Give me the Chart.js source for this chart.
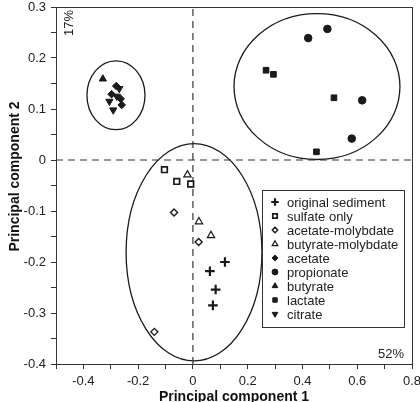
<!DOCTYPE html>
<html lang="en">
<head>
  <meta charset="UTF-8" />
  <title>PCA scores</title>
  <style>
    html, body { margin: 0; padding: 0; background: #fff; }
    #wrap { width: 420px; height: 402px; }
  </style>
</head>
<body>
  <div id="wrap"><canvas id="pca" width="420" height="402"></canvas></div>

  <script src="https://cdn.jsdelivr.net/npm/chart.js"></script>
  <script>
    // PC1 / PC2 scores, one array per treatment
    const originalSediment = [[0.117, -0.200], [0.062, -0.218], [0.083, -0.254], [0.073, -0.285]];
    const sulfateOnly = [[-0.104, -0.019], [-0.059, -0.042], [-0.008, -0.047]];
    const acetateMolybdate = [[-0.069, -0.103], [0.021, -0.161], [-0.141, -0.337]];
    const butyrateMolybdate = [[-0.020, -0.029], [0.022, -0.121], [0.066, -0.148]];
    const acetate = [[-0.280, 0.145], [-0.297, 0.129], [-0.264, 0.120], [-0.260, 0.108]];
    const propionate = [[0.421, 0.239], [0.491, 0.257], [0.618, 0.117], [0.580, 0.042]];
    const butyrate = [[-0.329, 0.159]];
    const lactate = [[0.267, 0.176], [0.294, 0.168], [0.515, 0.122], [0.451, 0.016]];
    const citrate = [[-0.269, 0.140], [-0.305, 0.115], [-0.291, 0.098], [-0.278, 0.125]];

    // group ellipses: centre and half-axes in data units
    const ellipseCentres = [[-0.281, 0.127], [0.453, 0.144], [0.004, -0.181]];
    const ellipseRadii = [[0.106, 0.0675], [0.303, 0.143], [0.248, 0.213]];

    const xRange = [-0.5, 0.8];
    const yRange = [-0.4, 0.3];
    const pc1Share = "52%";
    const pc2Share = "17%";
    const yTitle = "Principal component 2";

    const FONT = "'Liberation Sans', Arial, sans-serif";
    const INK = "#1a1a1a";

    const toPts = arr => arr.map(p => ({ x: p[0], y: p[1] }));

    function series(label, arr, style, filled, extra) {
      return Object.assign({
        label,
        data: toPts(arr),
        pointStyle: style,
        pointRadius: 3.6,
        pointHoverRadius: 3.6,
        borderColor: INK,
        backgroundColor: filled ? INK : "#fff",
        borderWidth: filled ? 1 : 1.4,
        order: 0
      }, extra || {});
    }

    const markerSets = [
      series("original sediment", originalSediment, "cross", true, { pointRadius: 4.8, borderWidth: 2.2 }),
      series("sulfate only", sulfateOnly, "rect", false, { pointRadius: 4, borderWidth: 1.7 }),
      series("acetate-molybdate", acetateMolybdate, "rectRot", false, { pointRadius: 3.5, borderWidth: 1.4 }),
      series("butyrate-molybdate", butyrateMolybdate, "triangle", false, { pointRadius: 4.2, borderWidth: 1.2 }),
      series("acetate", acetate, "rectRot", true, { pointRadius: 3.8 }),
      series("propionate", propionate, "circle", true, { pointRadius: 3.8 }),
      series("butyrate", butyrate, "triangle", true, { pointRadius: 4.2 }),
      series("lactate", lactate, "rect", true, { pointRadius: 4 }),
      series("citrate", citrate, "triangle", true, { pointRadius: 4.2, rotation: 180 })
    ];

    const dashed = (data) => ({
      type: "line",
      label: "",
      data,
      showLine: true,
      pointRadius: 0,
      borderColor: "#333",
      borderWidth: 1.2,
      borderDash: [7, 5],
      fill: false,
      order: 10
    });

    const ellipsePlugin = {
      id: "ellipses",
      beforeDatasetsDraw(chart) {
        const { ctx, scales: { x, y } } = chart;
        ctx.save();
        ctx.strokeStyle = INK;
        ctx.lineWidth = 1.3;
        ellipseCentres.forEach((c, i) => {
          const cx = x.getPixelForValue(c[0]);
          const cy = y.getPixelForValue(c[1]);
          const rx = Math.abs(x.getPixelForValue(c[0] + ellipseRadii[i][0]) - cx);
          const ry = Math.abs(y.getPixelForValue(c[1] + ellipseRadii[i][1]) - cy);
          ctx.beginPath();
          ctx.ellipse(cx, cy, rx, ry, 0, 0, Math.PI * 2);
          ctx.stroke();
        });
        ctx.restore();
      }
    };

    const framePlugin = {
      id: "frame",
      afterDraw(chart) {
        const { ctx, chartArea: a } = chart;
        ctx.save();
        ctx.strokeStyle = "#333";
        ctx.lineWidth = 1;
        ctx.strokeRect(Math.round(a.left) + 0.5, Math.round(a.top) + 0.5,
          Math.round(a.right - a.left), Math.round(a.bottom - a.top));

        // variance explained
        ctx.fillStyle = "#222";
        ctx.font = "13px " + FONT;
        ctx.textAlign = "right";
        ctx.textBaseline = "middle";
        ctx.fillText(pc1Share, a.right - 8, a.bottom - 10);

        ctx.save();
        ctx.translate(a.left + 13, a.top + 16);
        ctx.rotate(-Math.PI / 2);
        ctx.textAlign = "center";
        ctx.fillText(pc2Share, 0, 0);
        ctx.restore();

        // y axis title, sits a little above the middle of the axis
        ctx.translate(15, (a.top + a.bottom) / 2 - 9);
        ctx.rotate(-Math.PI / 2);
        ctx.textAlign = "center";
        ctx.fillStyle = "#111";
        ctx.font = "bold 14px " + FONT;
        ctx.fillText(yTitle, 0, 0);
        ctx.restore();
      }
    };

    const legendPlugin = {
      id: "boxLegend",
      afterDatasetsDraw(chart) {
        const { ctx, chartArea: a } = chart;
        const left = a.right - 150, top = a.top + 183, w = 142, h = 137;
        ctx.save();
        ctx.fillStyle = "#fff";
        ctx.fillRect(left, top, w, h);
        ctx.strokeStyle = "#333";
        ctx.lineWidth = 1;
        ctx.strokeRect(left + 0.5, top + 0.5, w, h);
        ctx.font = "13px " + FONT;
        ctx.textBaseline = "middle";
        ctx.textAlign = "left";
        markerSets.forEach((ds, i) => {
          const yy = top + 12 + i * 14;
          ctx.fillStyle = ds.backgroundColor;
          ctx.strokeStyle = ds.borderColor;
          ctx.lineWidth = ds.borderWidth;
          Chart.helpers.drawPoint(ctx, {
            pointStyle: ds.pointStyle,
            radius: ds.pointRadius * 0.78,
            rotation: ds.rotation || 0,
            borderWidth: ds.borderWidth
          }, left + 13, yy);
          ctx.fillStyle = "#222";
          ctx.fillText(ds.label, left + 25, yy + 1);
        });
        ctx.restore();
      }
    };

    new Chart(document.getElementById("pca"), {
      type: "scatter",
      data: {
        datasets: [
          dashed([{ x: 0, y: yRange[0] }, { x: 0, y: yRange[1] }]),
          dashed([{ x: xRange[0], y: 0 }, { x: xRange[1], y: 0 }]),
          ...markerSets
        ]
      },
      options: {
        responsive: false,
        animation: false,
        devicePixelRatio: 1,
        layout: { padding: { top: 6, right: 8, left: 0, bottom: 0 } },
        plugins: {
          legend: { display: false },
          tooltip: { enabled: false }
        },
        scales: {
          x: {
            type: "linear",
            min: xRange[0],
            max: xRange[1],
            afterFit(s) { s.height = 38; s.paddingLeft = 0; s.paddingRight = 0; },
            border: { display: true, color: "#333", width: 1 },
            grid: { drawOnChartArea: false, drawTicks: true, tickLength: 5, color: "#333" },
            ticks: {
              stepSize: 0.1,
              padding: 5,
              color: "#222",
              font: { family: FONT, size: 13 },
              maxRotation: 0,
              autoSkip: false,
              callback(v) {
                const t = Math.round(v * 10);
                if (t % 2 !== 0 || t === -5) return "";
                return t === 0 ? "0" : (t / 10).toFixed(1);
              }
            },
            title: {
              display: true,
              text: "Principal component 1",
              color: "#111",
              font: { family: FONT, size: 14, weight: "bold" },
              padding: { top: 0, bottom: -4 }
            }
          },
          y: {
            type: "linear",
            min: yRange[0],
            max: yRange[1],
            afterFit(s) { s.width = 56; s.paddingTop = 0; s.paddingBottom = 0; },
            border: { display: true, color: "#333", width: 1 },
            grid: { drawOnChartArea: false, drawTicks: true, tickLength: 5, color: "#333" },
            ticks: {
              stepSize: 0.05,
              padding: 5,
              color: "#222",
              font: { family: FONT, size: 13 },
              autoSkip: false,
              callback(v) {
                const t = Math.round(v * 20);
                if (t % 2 !== 0) return "";
                const d = t / 2;
                return d === 0 ? "0" : (d / 10).toFixed(1);
              }
            }
          }
        }
      },
      plugins: [ellipsePlugin, legendPlugin, framePlugin]
    });
  </script>
</body>
</html>
